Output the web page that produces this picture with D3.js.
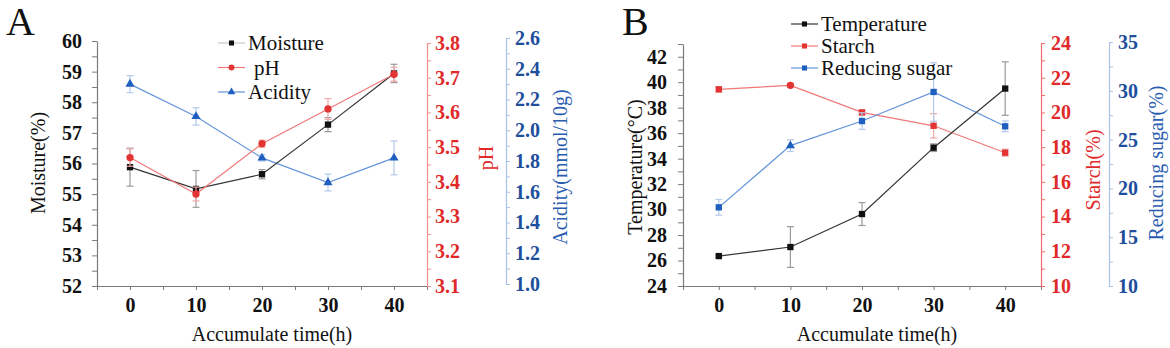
<!DOCTYPE html>
<html><head><meta charset="utf-8">
<script src="https://cdn.jsdelivr.net/npm/d3@7"></script>
<style>
body{margin:0;background:#fff;}
svg{display:block;font-family:"Liberation Serif","Times New Roman",serif;}
</style></head>
<body>
<svg id="c" width="1170" height="348"></svg>
<script>
// ---------- data ----------
const timeH = [0, 10, 20, 30, 40];
const xTicks = [0, 10, 20, 30, 40];

const moisture    = [55.88, 55.17, 55.65, 57.27, 58.94];
const moistureErr = [0.62, 0.60, 0.15, 0.23, 0.30];
const pH          = [3.47, 3.365, 3.51, 3.61, 3.71];
const pHErr       = [0.025, 0.02, 0.01, 0.03, 0.02];
const acidity     = [2.30, 2.09, 1.82, 1.66, 1.82];
const acidityErr  = [0.055, 0.056, 0.02, 0.055, 0.11];

const temperature    = [26.35, 27.06, 29.65, 34.86, 39.5];
const temperatureErr = [0.1, 1.6, 0.9, 0.3, 2.1];
const starch         = [21.33, 21.56, 20.0, 19.23, 17.68];
const starchErr      = [0.15, 0.1, 0.15, 0.7, 0.2];
const sugar          = [18.06, 24.38, 26.9, 29.88, 26.36];
const sugarErr       = [0.8, 0.6, 0.85, 3.0, 0.55];

const moistureTicks = [52, 53, 54, 55, 56, 57, 58, 59, 60];
const pHTicks       = [3.1, 3.2, 3.3, 3.4, 3.5, 3.6, 3.7, 3.8];
const acidityTicks  = [1.0, 1.2, 1.4, 1.6, 1.8, 2.0, 2.2, 2.4, 2.6];
const tempTicks     = [24, 26, 28, 30, 32, 34, 36, 38, 40, 42];
const starchTicks   = [10, 12, 14, 16, 18, 20, 22, 24];
const sugarTicks    = [10, 15, 20, 25, 30, 35];

// ---------- styles ----------
const C = {
  black: {line:"#333", mark:"#111", err:"#9a9a9a"},
  red:   {line:"#f07878", mark:"#e33434", err:"#f2a8a8"},
  blue:  {line:"#6494da", mark:"#1f5fbf", err:"#b3c8ec"}
};
const svg = d3.select("#c");
const yTop = 41, yBot = 286;

function minorVals(ticks, step) {
  const out = [];
  for (let i = 0; i < ticks.length - 1; i++) out.push(+(ticks[i] + step).toFixed(4));
  return out;
}

function drawAxis(g, axisFn, scale, ticks, minor, fmt, opts) {
  const a = g.append("g").attr("transform", opts.tr);
  a.call(axisFn(scale).tickValues(ticks).tickFormat(fmt).tickSize(opts.ts).tickSizeOuter(0).tickPadding(opts.pad));
  a.select(".domain").attr("stroke", opts.lineColor).attr("stroke-width", 1.2);
  a.selectAll(".tick line").attr("stroke", opts.lineColor);
  a.selectAll(".tick text").attr("fill", opts.textColor).style("font-size", "20px")
    .style("font-weight", "bold").style("font-family", '"Liberation Serif","Times New Roman",serif');
  if (minor && minor.length) {
    const m = g.append("g").attr("transform", opts.tr);
    m.call(axisFn(scale).tickValues(minor).tickFormat("").tickSize(opts.ts).tickSizeOuter(0));
    m.select(".domain").remove();
    m.selectAll(".tick line").attr("stroke", opts.lineColor);
  }
  return a;
}

function series(g, x, y, vals, errs, col, shapes) {
  const line = d3.line().x((d, i) => x(timeH[i])).y(d => y(d));
  g.append("path").datum(vals).attr("d", line).attr("fill", "none")
    .attr("stroke", col.line).attr("stroke-width", 1.2);
  const eb = g.append("g").attr("stroke", col.err).attr("stroke-width", 1.2);
  vals.forEach((v, i) => {
    const cx = x(timeH[i]), y1 = y(v - errs[i]), y2 = y(v + errs[i]);
    eb.append("line").attr("x1", cx).attr("x2", cx).attr("y1", y1).attr("y2", y2);
    eb.append("line").attr("x1", cx - 3.5).attr("x2", cx + 3.5).attr("y1", y1).attr("y2", y1);
    eb.append("line").attr("x1", cx - 3.5).attr("x2", cx + 3.5).attr("y1", y2).attr("y2", y2);
  });
  vals.forEach((v, i) => {
    const sh = shapes[i];
    const sym = sh === "circle" ? d3.symbolCircle : sh === "triangle" ? d3.symbolTriangle : d3.symbolSquare;
    const size = sh === "circle" ? 42 : sh === "triangle" ? 36 : 40;
    g.append("path").attr("d", d3.symbol().type(sym).size(size)())
      .attr("transform", `translate(${x(timeH[i])},${y(v)})`).attr("fill", col.mark);
  });
}

function legend(g, x0, y0, dy, items, fs) {
  items.forEach((it, i) => {
    const yy = y0 + i * dy;
    g.append("line").attr("x1", x0).attr("x2", x0 + 27).attr("y1", yy).attr("y2", yy)
      .attr("stroke", it.lc).attr("stroke-width", 1.2);
    const sym = it.shape === "circle" ? d3.symbolCircle : it.shape === "triangle" ? d3.symbolTriangle : d3.symbolSquare;
    g.append("path").attr("d", d3.symbol().type(sym).size(26)())
      .attr("transform", `translate(${x0 + 13.5},${yy})`).attr("fill", it.mc);
    g.append("text").attr("x", x0 + 30 + (it.dx || 0)).attr("y", yy).attr("dy", "0.35em")
      .style("font-size", fs + "px").attr("fill", "#111").text(it.label);
  });
}

function vtitle(g, x, y, txt, col, fs) {
  g.append("text").attr("transform", `translate(${x},${y}) rotate(-90)`)
    .attr("text-anchor", "middle").attr("dy", "0.35em").style("font-size", fs + "px")
    .attr("fill", col).text(txt);
}

// ---------- Panel A ----------
(function () {
  const g = svg.append("g");
  const x0 = 97, x1 = 427;
  const x = d3.scaleLinear().domain([-5, 45]).range([x0, x1]);
  const yM = d3.scaleLinear().domain([52, 60]).range([yBot, yTop]);
  const yP = d3.scaleLinear().domain([3.1, 3.8]).range([yBot, 43]);
  const yA = d3.scaleLinear().domain([1.0, 2.6]).range([284, 38]);

  g.append("text").attr("x", 6).attr("y", 35).style("font-size", "40px").attr("fill", "#111").text("A");

  drawAxis(g, d3.axisBottom, x, xTicks, [-5, 5, 15, 25, 35, 45], d3.format("d"),
    {tr: `translate(0,${yBot})`, ts: 4, pad: 8, lineColor: "#7a7a7a", textColor: "#111"});
  drawAxis(g, d3.axisLeft, yM, moistureTicks, minorVals(moistureTicks, 0.5), d3.format("d"),
    {tr: `translate(${x0},0)`, ts: 5, pad: 10, lineColor: "#7a7a7a", textColor: "#111"});
  drawAxis(g, d3.axisRight, yP, pHTicks, minorVals(pHTicks, 0.05), d3.format(".1f"),
    {tr: `translate(${x1},0)`, ts: 4, pad: 4, lineColor: "#f28e8e", textColor: "#e02a2a"});
  drawAxis(g, d3.axisRight, yA, acidityTicks, minorVals(acidityTicks, 0.1), d3.format(".1f"),
    {tr: `translate(506,0)`, ts: 4, pad: 5, lineColor: "#a9c1e8", textColor: "#1d4f9c"});

  vtitle(g, 38, 163, "Moisture(%)", "#111", 20);
  vtitle(g, 486, 158, "pH", "#e02a2a", 20);
  vtitle(g, 560, 167, "Acidity(mmol/10g)", "#2a5db0", 20);
  g.append("text").attr("x", 272).attr("y", 341).attr("text-anchor", "middle")
    .style("font-size", "20px").attr("fill", "#111").text("Accumulate time(h)");

  series(g, x, yA, acidity, acidityErr, C.blue, ["triangle","triangle","triangle","triangle","triangle"]);
  series(g, x, yM, moisture, moistureErr, C.black, ["square","square","square","square","square"]);
  series(g, x, yP, pH, pHErr, C.red, ["circle","circle","circle","circle","circle"]);

  legend(g, 218, 43, 24.5, [
    {label: "Moisture", lc: "#c8c8c8", mc: "#111", shape: "square"},
    {label: "pH", lc: C.red.line, mc: C.red.mark, shape: "circle", dx: 6},
    {label: "Acidity", lc: C.blue.line, mc: C.blue.mark, shape: "triangle"}
  ], 21);
})();

// ---------- Panel B ----------
(function () {
  const g = svg.append("g");
  const x0 = 683, x1 = 1041;
  const x = d3.scaleLinear().domain([-5, 45]).range([x0, x1]);
  const yT = d3.scaleLinear().domain([24, 43]).range([yBot, 44]);
  const yS = d3.scaleLinear().domain([10, 24]).range([yBot, 43]);
  const yR = d3.scaleLinear().domain([10, 35]).range([yBot, 42]);

  g.append("text").attr("x", 622).attr("y", 35).style("font-size", "40px").attr("fill", "#111").text("B");

  drawAxis(g, d3.axisBottom, x, xTicks, [-5, 5, 15, 25, 35, 45], d3.format("d"),
    {tr: `translate(0,${yBot})`, ts: 4, pad: 8, lineColor: "#7a7a7a", textColor: "#111"});
  drawAxis(g, d3.axisLeft, yT, tempTicks, minorVals(tempTicks.concat([44]), 1), d3.format("d"),
    {tr: `translate(${x0},0)`, ts: 5, pad: 11, lineColor: "#7a7a7a", textColor: "#111"});
  drawAxis(g, d3.axisRight, yS, starchTicks, minorVals(starchTicks, 1), d3.format("d"),
    {tr: `translate(${x1},0)`, ts: 4, pad: 6, lineColor: "#ee6a6a", textColor: "#e02a2a"});
  drawAxis(g, d3.axisRight, yR, sugarTicks, minorVals(sugarTicks, 2.5), d3.format("d"),
    {tr: `translate(1109,0)`, ts: 4, pad: 5, lineColor: "#a9c1e8", textColor: "#1d4f9c"});

  vtitle(g, 635, 167, "Temperature(\u00B0C)", "#111", 20);
  vtitle(g, 1093, 170, "Starch(%)", "#e02a2a", 20);
  vtitle(g, 1156, 163, "Reducing sugar(%)", "#2a5db0", 20);
  g.append("text").attr("x", 877).attr("y", 341).attr("text-anchor", "middle")
    .style("font-size", "20px").attr("fill", "#111").text("Accumulate time(h)");

  series(g, x, yS, starch, starchErr, C.red, ["square","circle","square","square","square"]);
  series(g, x, yR, sugar, sugarErr, C.blue, ["square","triangle","square","square","square"]);
  series(g, x, yT, temperature, temperatureErr, C.black, ["square","square","square","square","square"]);

  legend(g, 791, 24, 22, [
    {label: "Temperature", lc: "#333", mc: "#111", shape: "square"},
    {label: "Starch", lc: C.red.line, mc: C.red.mark, shape: "square"},
    {label: "Reducing sugar", lc: C.blue.line, mc: C.blue.mark, shape: "square"}
  ], 21);
})();
</script>
</body></html>
